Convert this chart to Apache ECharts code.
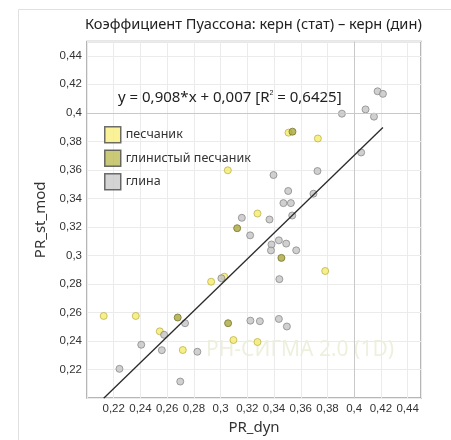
<!DOCTYPE html>
<html>
<head>
<meta charset="utf-8">
<script src="https://cdn.jsdelivr.net/npm/echarts@6/dist/echarts.min.js"></script>
<style>
  html, body { margin: 0; padding: 0; background: #fff; }
  #chart { width: 451px; height: 440px; }
</style>
</head>
<body>
<div id="chart"></div>
<script>
// песчаник
var sandPoints = [
  [0.2125, 0.2576], [0.2365, 0.2576], [0.2545, 0.2468], [0.2717, 0.2337],
  [0.2929, 0.2816], [0.3028, 0.2851], [0.3096, 0.2407], [0.3276, 0.2393],
  [0.3783, 0.2891], [0.3054, 0.3597], [0.3276, 0.3294], [0.3508, 0.3861],
  [0.3728, 0.3820]
]
// глинистый песчаник
var clayeySandPoints = [
  [0.2679, 0.2565], [0.3056, 0.2525], [0.3124, 0.3191], [0.3455, 0.2983],
  [0.3538, 0.3868]
]
// глина
var clayPoints = [
  [0.2243, 0.2205], [0.2406, 0.2374], [0.2560, 0.2336], [0.2577, 0.2444],
  [0.2734, 0.2525], [0.2826, 0.2325], [0.2698, 0.2116], [0.3006, 0.2840],
  [0.3440, 0.2834], [0.3223, 0.2543], [0.3294, 0.2539], [0.3436, 0.2555],
  [0.3496, 0.2502], [0.3396, 0.3564], [0.3725, 0.3592], [0.3506, 0.3452],
  [0.3470, 0.3367], [0.3526, 0.3367], [0.3695, 0.3433], [0.3536, 0.3280],
  [0.3159, 0.3264], [0.3366, 0.3252], [0.3221, 0.3141], [0.3436, 0.3106],
  [0.3381, 0.3077], [0.3491, 0.3083], [0.3377, 0.3035], [0.3566, 0.3036],
  [0.4175, 0.4151], [0.4215, 0.4133], [0.4085, 0.4024], [0.3908, 0.3994],
  [0.4148, 0.3973], [0.4052, 0.3722]
]
var seriesNames = ['песчаник', 'глинистый песчаник', 'глина']
var axisTicks = [0.22, 0.24, 0.26, 0.28, 0.3, 0.32, 0.34, 0.36, 0.38, 0.4, 0.42, 0.44]

// линия регрессии
var slope = 0.908
var intercept = 0.007
var r2 = 0.6425
var refValue = 0.4

function fmt(v) {
  return String(+v.toFixed(4)).replace('.', ',')
}

var allX = sandPoints.concat(clayeySandPoints, clayPoints).map(function (p) { return p[0] })
var xMin = Math.min.apply(null, allX)
var xMax = Math.max.apply(null, allX)
var fitLine = [[xMin, slope * xMin + intercept], [xMax, slope * xMax + intercept]]

var chart = echarts.init(document.getElementById('chart'))

function axisCfg(name, isY) {
  return {
    type: 'value',
    min: 0.2,
    max: 0.45,
    interval: 0.02,
    name: name,
    nameLocation: 'middle',
    nameGap: isY ? 34 : 21,
    nameTextStyle: { fontSize: 15, color: '#333', fontFamily: 'Noto Sans' },
    axisLine: { show: false },
    axisTick: { show: false },
    axisLabel: {
      fontSize: 11.5,
      color: '#333',
      fontFamily: 'Liberation Sans',
      margin: 5,
      showMinLabel: false,
      showMaxLabel: false,
      formatter: function (v) {
        return axisTicks.some(function (t) { return Math.abs(t - v) < 1e-6 }) ? fmt(v) : ''
      }
    },
    splitLine: { show: true, lineStyle: { color: '#ebebeb', width: 1 } }
  }
}

var pointStyles = [
  { color: '#f5ec6c', borderColor: '#bdb24e' },
  { color: '#aaa83c', borderColor: '#77762c' },
  { color: '#c4c4c4', borderColor: '#8a8a8a' }
]
var legendColors = ['#f8ef80', '#bdbc55', '#c9c9c9']

chart.setOption({
  animation: false,
  grid: {
    left: 87,
    right: 30,
    top: 41.5,
    bottom: 40,
    show: true,
    borderColor: '#9e9e9e',
    borderWidth: 1.5,
    backgroundColor: 'transparent'
  },
  title: {
    text: 'Коэффициент Пуассона: керн (стат) – керн (дин)',
    left: 80,
    top: 12,
    textStyle: { fontSize: 14.6, fontWeight: 'normal', color: '#222', fontFamily: 'Noto Sans' }
  },
  legend: {
    orient: 'vertical',
    left: 99,
    top: 121,
    icon: 'rect',
    itemWidth: 16,
    itemHeight: 16,
    itemGap: 6,
    textStyle: { fontSize: 12.5, color: '#333', fontFamily: 'Noto Sans' },
    itemStyle: { borderColor: '#4a4a4a', borderWidth: 1.5 },
    data: seriesNames.map(function (n, i) {
      return { name: n, itemStyle: { color: legendColors[i] } }
    })
  },
  graphic: [
    {
      type: 'rect',
      left: 16,
      top: 7,
      shape: { width: 460, height: 460 },
      style: { fill: 'none', stroke: '#e0e0e0', lineWidth: 1 },
      silent: true,
      z: -10
    },
    {
      type: 'text',
      left: 206,
      top: 340,
      silent: true,
      z: -5,
      style: {
        text: 'РН-СИГМА 2.0 (1D)',
        fontSize: 21,
        fontFamily: 'Noto Sans',
        fill: 'rgba(205,212,160,0.35)'
      }
    },
    {
      type: 'text',
      left: 118,
      top: 90,
      z: 10,
      style: {
        text: 'y = ' + fmt(slope) + '*x + ' + fmt(intercept) + ' [R{sup|2} = ' + fmt(r2) + ']',
        fontSize: 15,
        fontFamily: 'Noto Sans',
        fill: '#222',
        rich: {
          sup: { fontSize: 7, verticalAlign: 'top', padding: [0, 0, 8, 0], fill: '#222' }
        }
      }
    }
  ],
  xAxis: axisCfg('PR_dyn', false),
  yAxis: axisCfg('PR_st_mod', true),
  series: [
    {
      name: seriesNames[0],
      type: 'scatter',
      symbolSize: 7,
      itemStyle: { color: pointStyles[0].color, borderColor: pointStyles[0].borderColor, borderWidth: 1 },
      data: sandPoints,
      markLine: {
        silent: true,
        symbol: 'none',
        label: { show: false },
        lineStyle: { color: '#c8c8c8', type: 'solid', width: 1 },
        data: [{ xAxis: refValue }, { yAxis: refValue }]
      }
    },
    {
      name: seriesNames[1],
      type: 'scatter',
      symbolSize: 7,
      itemStyle: { color: pointStyles[1].color, borderColor: pointStyles[1].borderColor, borderWidth: 1 },
      data: clayeySandPoints
    },
    {
      name: seriesNames[2],
      type: 'scatter',
      symbolSize: 7,
      itemStyle: { color: pointStyles[2].color, borderColor: pointStyles[2].borderColor, borderWidth: 1 },
      data: clayPoints
    },
    {
      name: 'fit',
      type: 'line',
      data: fitLine,
      showSymbol: false,
      symbol: 'none',
      silent: true,
      clip: true,
      z: 5,
      lineStyle: { color: '#2a2a2a', width: 1.3 }
    }
  ]
})
</script>
</body>
</html>
